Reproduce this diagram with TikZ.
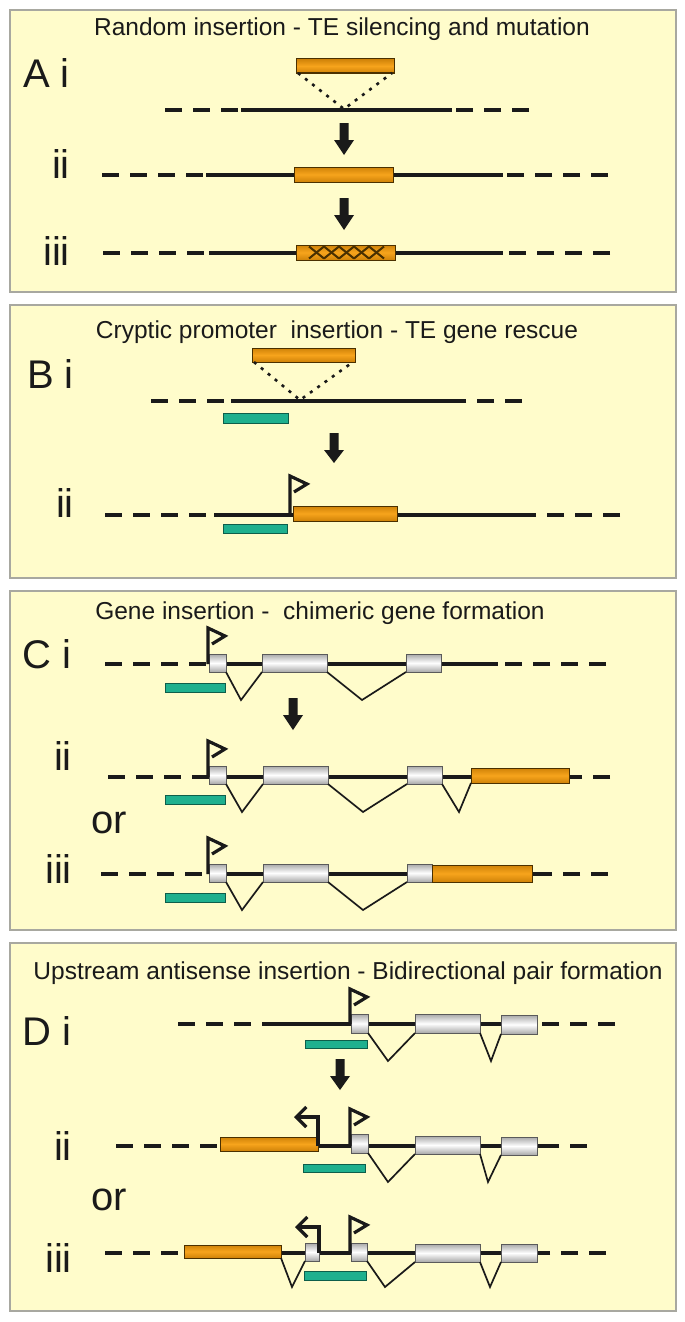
\documentclass[tikz,border=0pt]{standalone}
\usepackage{fontspec}
\setmainfont{Liberation Sans}
\usetikzlibrary{arrows.meta}
\definecolor{panelbg}{HTML}{FFFCCB}
\definecolor{panelrule}{HTML}{A8A8A0}
\definecolor{ink}{HTML}{1A1A1A}
\definecolor{teL}{HTML}{F7A41C}
\definecolor{teD}{HTML}{CF8208}
\definecolor{teE}{HTML}{4A3000}
\definecolor{tealC}{HTML}{1FB08E}
\definecolor{tealE}{HTML}{0E5E4A}
\definecolor{exD}{HTML}{A8A8A8}
\definecolor{exE}{HTML}{5A5A5A}
\newcommand\bx[6]{\node[#1,inner sep=0pt,outer sep=0pt,minimum width={(#5)-(#3)},minimum height={(#6)-(#4)}] (#2) at ({((#3)+(#5))/2},{((#4)+(#6))/2}) {};}
\newcommand\dnaline[5]{%
  \draw[dnadash] (#2,#1) -- (#3,#1);
  \draw[dna] (#3,#1) -- (#4,#1);
  \draw[dnadash] (#5,#1) -- (#4,#1);}
\newcommand\barr[3]{\fill[ink] ({#1-4.5},#2) -- ({#1+4.5},#2) -- ({#1+4.5},{#2+17}) -- ({#1+10},{#2+17}) -- (#1,#3) -- ({#1-10},{#2+17}) -- ({#1-4.5},{#2+17}) -- cycle;}
\newcommand\promF[3]{\draw[prom] (#1,#2) -- (#1,{#3-8}) -- ({#1+17},#3) -- ({#1+4},{#3+8});}
\newcommand\promR[3]{\draw[prom,-{Straight Barb[length=10pt,width=20pt]}] (#1,#2) |- ({#1-24},#3);}
\begin{document}
\begin{tikzpicture}[x=1pt,y=-1pt,
  panel/.style={fill=panelbg,draw=panelrule,line width=1.2pt},
  title/.style={anchor=base,inner sep=0pt,font=\fontsize{24.5}{29}\selectfont,text=ink},
  lab/.style={anchor=base east,inner sep=0pt,font=\fontsize{40}{48}\selectfont,text=ink},
  labw/.style={anchor=base west,inner sep=0pt,font=\fontsize{40}{48}\selectfont,text=ink},
  dna/.style={draw=ink,line width=3.6pt},
  dnadash/.style={draw=ink,line width=3.6pt,dash pattern=on 17pt off 11pt},
  te/.style={draw=teE,line width=1pt,top color=teD,bottom color=teD,middle color=teL},
  exon/.style={draw=exE,line width=1pt,top color=exD,bottom color=exD,middle color=white},
  teal/.style={draw=tealE,line width=1pt,fill=tealC},
  intron/.style={draw=ink,line width=1.7pt},
  dotl/.style={draw=ink,line width=2.6pt,dash pattern=on 3pt off 6pt},
  xpat/.style={draw=teE,line width=2pt},
  prom/.style={draw=ink,line width=3.2pt,line join=miter}]
\useasboundingbox (0,0) rectangle (685,1322);
\fill[white] (0,0) rectangle (685,1322);

% ---------------- Panel A ----------------
\draw[panel] (10,10) rectangle (676,292);
\node[title] (tA) at (342,36) {Random insertion - TE silencing and mutation};
\node[lab] (lAi) at (70,88) {A i};
\node[lab] (lAii) at (70,178) {ii};
\node[lab] (lAiii) at (70,265) {iii};
\dnaline{110}{165}{241}{452}{529}
\bx{te}{teAi}{296}{59}{394}{73}
\coordinate (insA) at (344,109);
\draw[dotl] ([xshift=2pt]teAi.south west) -- (insA) -- ([xshift=-2pt]teAi.south east);
\barr{344}{123}{155}
\dnaline{175}{102}{206}{503}{608}
\bx{te}{teAii}{294}{167}{393}{182}
\barr{344}{198}{230}
\dnaline{253}{103}{209}{503}{610}
\bx{te}{teAiii}{296}{245}{395}{260}
\foreach \i in {0,...,4}{
  \draw[xpat] ({309+15*\i},246.5) -- ({309+15*(\i+1)},258.5)
              ({309+15*\i},258.5) -- ({309+15*(\i+1)},246.5);}

% ---------------- Panel B ----------------
\draw[panel] (10,305) rectangle (676,578);
\node[title] (tB) at (337,338) {Cryptic promoter\ \ insertion - TE gene rescue};
\node[lab] (lBi) at (74,388) {B i};
\node[lab] (lBii) at (74,517) {ii};
\dnaline{401}{151}{231}{465}{522}
\bx{te}{teBi}{252}{348}{355}{362}
\coordinate (insB) at (300,400);
\draw[dotl] ([xshift=2pt]teBi.south west) -- (insB) -- ([xshift=-2pt]teBi.south east);
\bx{teal}{tlBi}{223}{413}{288}{423}
\barr{334}{433}{463}
\dnaline{515}{105}{214}{535}{620}
\bx{te}{teBii}{293}{506}{397}{521}
\bx{teal}{tlBii}{223}{524}{287}{533}
\promF{290}{515}{484}

% ---------------- Panel C ----------------
\draw[panel] (10,591) rectangle (676,930);
\node[title] (tC) at (320,619) {Gene insertion -\ \ chimeric gene formation};
\node[lab] (lCi) at (72,668) {C i};
\node[lab] (lCii) at (72,770) {ii};
\node[labw] (orC) at (91,833) {or};
\node[lab] (lCiii) at (72,883) {iii};
% C i
\dnaline{664}{105}{209}{498}{606}
\bx{exon}{eCi1}{209}{654}{226}{672}
\bx{exon}{eCi2}{262}{654}{327}{672}
\bx{exon}{eCi3}{406}{654}{441}{672}
\draw[intron] (eCi1.south east) -- (241,700) -- (eCi2.south west);
\draw[intron] (eCi2.south east) -- (362,700) -- (eCi3.south west);
\bx{teal}{tlCi}{165}{683}{225}{692}
\promF{208}{664}{636}
\barr{293}{698}{730}
% C ii
\dnaline{777}{108}{209}{573}{610}
\bx{exon}{eCii1}{209}{766}{226}{784}
\bx{exon}{eCii2}{263}{766}{328}{784}
\bx{exon}{eCii3}{407}{766}{442}{784}
\bx{te}{teCii}{471}{768}{569}{783}
\draw[intron] (eCii1.south east) -- (242,812) -- (eCii2.south west);
\draw[intron] (eCii2.south east) -- (363,812) -- (eCii3.south west);
\draw[intron] (eCii3.south east) -- (459,812) -- (teCii.south west);
\bx{teal}{tlCii}{165}{795}{225}{804}
\promF{208}{777}{749}
% C iii
\dnaline{874}{101}{209}{545}{608}
\bx{exon}{eCiii1}{209}{864}{226}{882}
\bx{exon}{eCiii2}{263}{864}{328}{882}
\bx{exon}{eCiii3}{407}{864}{432}{882}
\bx{te}{teCiii}{432}{865}{532}{882}
\draw[intron] (eCiii1.south east) -- (242,910) -- (eCiii2.south west);
\draw[intron] (eCiii2.south east) -- (363,910) -- (eCiii3.south west);
\bx{teal}{tlCiii}{165}{893}{225}{902}
\promF{208}{874}{846}

% ---------------- Panel D ----------------
\draw[panel] (10,943) rectangle (676,1311);
\node[title] (tD) at (348,979) {Upstream antisense insertion - Bidirectional pair formation};
\node[lab] (lDi) at (72,1045) {D i};
\node[lab] (lDii) at (72,1160) {ii};
\node[labw] (orD) at (91,1210) {or};
\node[lab] (lDiii) at (72,1272) {iii};
% D i
\dnaline{1024}{178}{263}{537}{615}
\bx{exon}{eDi1}{351}{1014}{368}{1033}
\bx{exon}{eDi2}{415}{1014}{480}{1033}
\bx{exon}{eDi3}{501}{1015}{537}{1034}
\draw[intron] (eDi1.south east) -- (388,1061) -- (eDi2.south west);
\draw[intron] (eDi2.south east) -- (491,1061) -- (eDi3.south west);
\bx{teal}{tlDi}{305}{1040}{367}{1048}
\promF{350}{1024}{997}
\barr{340}{1059}{1090}
% D ii
\dnaline{1146}{116}{220}{545}{587}
\bx{te}{teDii}{220}{1137}{318}{1151}
\bx{exon}{eDii1}{351}{1134}{368}{1153}
\bx{exon}{eDii2}{415}{1136}{480}{1154}
\bx{exon}{eDii3}{501}{1137}{537}{1155}
\draw[intron] (eDii1.south east) -- (388,1182) -- (eDii2.south west);
\draw[intron] (eDii2.south east) -- (488,1182) -- (eDii3.south west);
\bx{teal}{tlDii}{303}{1164}{365}{1172}
\promR{318}{1146}{1117}
\promF{350}{1146}{1117}
% D iii
\dnaline{1253}{105}{184}{545}{606}
\bx{te}{teDiii}{184}{1245}{281}{1258}
\bx{exon}{eDiii0}{305}{1243}{319}{1261}
\bx{exon}{eDiii1}{351}{1243}{367}{1261}
\bx{exon}{eDiii2}{415}{1244}{480}{1262}
\bx{exon}{eDiii3}{501}{1244}{537}{1262}
\draw[intron] (teDiii.south east) -- (292,1287) -- (eDiii0.south west);
\draw[intron] (eDiii1.south east) -- (385,1287) -- (eDiii2.south west);
\draw[intron] (eDiii2.south east) -- (490,1287) -- (eDiii3.south west);
\bx{teal}{tlDiii}{304}{1271}{366}{1280}
\promR{319}{1253}{1227}
\promF{350}{1253}{1225}
\end{tikzpicture}
\end{document}
